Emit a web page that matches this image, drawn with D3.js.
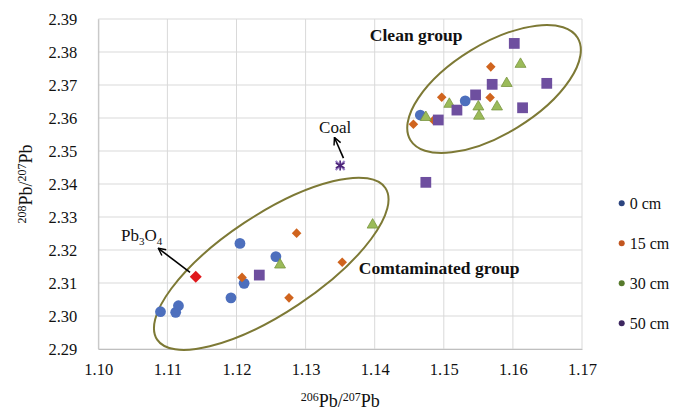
<!DOCTYPE html>
<html>
<head>
<meta charset="utf-8">
<script src="https://cdn.jsdelivr.net/npm/d3@7"></script>
<style>
  html, body { margin: 0; padding: 0; background: #fff; }
  svg { display: block; }
  svg text { font-family: "Liberation Serif", "Times New Roman", Times, "DejaVu Serif", serif; }
</style>
</head>
<body>
<svg id="chart" width="678" height="414"></svg>
<script>
// Axis ticks
const xTicks = [1.10, 1.11, 1.12, 1.13, 1.14, 1.15, 1.16, 1.17];
const yTicks = [2.29, 2.30, 2.31, 2.32, 2.33, 2.34, 2.35, 2.36, 2.37, 2.38, 2.39];

// 206Pb/207Pb (x) and 208Pb/207Pb (y) by sampling depth
const depthLabels = ["0 cm", "15 cm", "30 cm", "50 cm"];
const x0cm  = [1.1090, 1.1112, 1.1116, 1.1192, 1.1205, 1.1211, 1.1257, 1.1466, 1.1531];
const y0cm  = [2.3013, 2.3011, 2.3031, 2.3055, 2.3220, 2.3099, 2.3180, 2.3609, 2.3652];
const x15cm = [1.1208, 1.1276, 1.1287, 1.1353, 1.1456, 1.1485, 1.1497, 1.1567, 1.1568];
const y15cm = [2.3117, 2.3055, 2.3251, 2.3163, 2.3581, 2.3593, 2.3663, 2.3662, 2.3755];
const x30cm = [1.1263, 1.1397, 1.1474, 1.1508, 1.1550, 1.1551, 1.1577, 1.1591, 1.1611];
const y30cm = [2.3155, 2.3276, 2.3602, 2.3642, 2.3634, 2.3606, 2.3634, 2.3705, 2.3763];
const x50cm = [1.1233, 1.1474, 1.1492, 1.1519, 1.1546, 1.1570, 1.1602, 1.1614, 1.1649];
const y50cm = [2.3124, 2.3405, 2.3594, 2.3624, 2.3670, 2.3702, 2.3826, 2.3631, 2.3705];

// Reference sources
const coalPoint = [1.1350, 2.3456];
const pb3o4Point = [1.1141, 2.3119];

const serif = '"Liberation Serif", "Times New Roman", Times, "DejaVu Serif", serif';
const svg = d3.select("#chart");
const plot = { left: 98.3, right: 582, top: 19, bottom: 349 };

const x = d3.scaleLinear().domain([1.10, 1.17]).range([plot.left, plot.right]);
const y = d3.scaleLinear().domain([2.29, 2.39]).range([plot.bottom, plot.top]);

// Gridlines
const grid = svg.append("g");
grid.selectAll("line.v").data(xTicks).join("line")
  .attr("x1", d => x(d)).attr("x2", d => x(d))
  .attr("y1", plot.top).attr("y2", plot.bottom)
  .attr("stroke", "#d9d9d9").attr("stroke-width", 1);
grid.selectAll("line.h").data(yTicks).join("line")
  .attr("x1", plot.left).attr("x2", plot.right)
  .attr("y1", d => y(d)).attr("y2", d => y(d))
  .attr("stroke", "#d9d9d9").attr("stroke-width", 1);

// Axes
const xAxis = d3.axisBottom(x).tickValues(xTicks).tickFormat(d3.format(".2f")).tickSize(0).tickPadding(14);
const yAxis = d3.axisLeft(y).tickValues(yTicks).tickFormat(d3.format(".2f")).tickSize(0).tickPadding(21);

const gx = svg.append("g").attr("transform", `translate(0,${plot.bottom})`).call(xAxis);
const gy = svg.append("g").attr("transform", `translate(${plot.left},0)`).call(yAxis);
[gx, gy].forEach(g => {
  g.attr("font-family", null).attr("font-size", null);
  g.select(".domain").attr("stroke", "#bfbfbf").attr("stroke-width", 1);
  g.selectAll("text").style("font-family", serif)
    .attr("font-size", 16.5).attr("fill", "#111");
});

// Group ellipses
const ellipses = [
  { cx: 1.15727, cy: 2.36879, rx: 98, ry: 45, angle: -31.5 },
  { cx: 1.12503, cy: 2.31583, rx: 137, ry: 49, angle: -33.6 }
];
svg.append("g").selectAll("ellipse").data(ellipses).join("ellipse")
  .attr("transform", d => `translate(${x(d.cx)},${y(d.cy)}) rotate(${d.angle})`)
  .attr("rx", d => d.rx).attr("ry", d => d.ry)
  .attr("fill", "none").attr("stroke", "#7d7935").attr("stroke-width", 2);

// Series markers
function pts(xs, ys) { return xs.map((v, i) => [v, ys[i]]); }
const marks = svg.append("g");

marks.selectAll("circle.s0").data(pts(x0cm, y0cm)).join("circle")
  .attr("cx", d => x(d[0])).attr("cy", d => y(d[1])).attr("r", 5.4)
  .attr("fill", "#4d6fbd");

marks.selectAll("path.s15").data(pts(x15cm, y15cm)).join("path")
  .attr("transform", d => `translate(${x(d[0])},${y(d[1])}) rotate(45)`)
  .attr("d", d3.symbol(d3.symbolSquare, 46))
  .attr("fill", "#d0641e");

marks.selectAll("path.s30").data(pts(x30cm, y30cm)).join("path")
  .attr("transform", d => `translate(${x(d[0])},${y(d[1])})`)
  .attr("d", d3.symbol(d3.symbolTriangle, 52))
  .attr("fill", "#9bbb59").attr("stroke", "#7a9640").attr("stroke-width", 0.8);

marks.selectAll("path.s50").data(pts(x50cm, y50cm)).join("path")
  .attr("transform", d => `translate(${x(d[0])},${y(d[1])})`)
  .attr("d", d3.symbol(d3.symbolSquare, 116))
  .attr("fill", "#6e4f9f");

// Pb3O4 source
marks.append("path")
  .attr("transform", `translate(${x(pb3o4Point[0])},${y(pb3o4Point[1])}) rotate(45)`)
  .attr("d", d3.symbol(d3.symbolSquare, 72))
  .attr("fill", "#e0181c");

// Coal source
const coal = marks.append("g").attr("transform", `translate(${x(coalPoint[0])},${y(coalPoint[1])})`);
coal.append("path").attr("d", "M-4.5,-4.5L4.5,4.5M-4.5,4.5L4.5,-4.5")
  .attr("stroke", "#9c82c8").attr("stroke-width", 2.2);
coal.append("path").attr("d", "M0,-5L0,5M-4.3,-2.5L4.3,2.5M-4.3,2.5L4.3,-2.5")
  .attr("stroke", "#4b2378").attr("stroke-width", 1.6);

// Annotation arrows
svg.append("defs").append("marker")
  .attr("id", "head").attr("viewBox", "0 0 10 10").attr("refX", 9).attr("refY", 5)
  .attr("markerWidth", 9).attr("markerHeight", 9).attr("orient", "auto").attr("markerUnits", "userSpaceOnUse")
  .append("path").attr("d", "M1,1L9,5L1,9").attr("fill", "none").attr("stroke", "#000").attr("stroke-width", 1.6);

const arrows = [
  { from: coalPoint, dx1: 3.3, dy1: -7.4, dx2: -5.7, dy2: -28 },
  { from: pb3o4Point, dx1: -5.7, dy1: -4.4, dx2: -37.4, dy2: -28.4 }
];
svg.append("g").selectAll("line").data(arrows).join("line")
  .attr("x1", d => x(d.from[0]) + d.dx1).attr("y1", d => y(d.from[1]) + d.dy1)
  .attr("x2", d => x(d.from[0]) + d.dx2).attr("y2", d => y(d.from[1]) + d.dy2)
  .attr("stroke", "#000").attr("stroke-width", 1.6).attr("marker-end", "url(#head)");

// Annotation labels
svg.append("text").attr("x", x(coalPoint[0]) - 5).attr("y", y(coalPoint[1]) - 33)
  .attr("text-anchor", "middle").attr("font-size", 17).attr("fill", "#111").text("Coal");

const pbLabel = svg.append("text").attr("x", x(pb3o4Point[0]) - 54).attr("y", y(pb3o4Point[1]) - 36)
  .attr("text-anchor", "middle").attr("font-size", 17).attr("fill", "#111");
pbLabel.append("tspan").text("Pb");
pbLabel.append("tspan").attr("font-size", 11).attr("dy", 4).text("3");
pbLabel.append("tspan").attr("dy", -4).text("O");
pbLabel.append("tspan").attr("font-size", 11).attr("dy", 4).text("4");

svg.append("text").attr("x", x(1.1393)).attr("y", y(2.3833))
  .attr("font-size", 17.5).attr("font-weight", "bold").attr("fill", "#111").text("Clean group");
svg.append("text").attr("x", x(1.1377)).attr("y", y(2.3127))
  .attr("font-size", 17.5).attr("font-weight", "bold").attr("fill", "#111").text("Comtaminated group");

// Axis titles
const xt = svg.append("text").attr("x", (plot.left + plot.right) / 2).attr("y", 407)
  .attr("text-anchor", "middle").attr("font-size", 18).attr("fill", "#111");
xt.append("tspan").attr("font-size", 12).attr("dy", -6).text("206");
xt.append("tspan").attr("dy", 6).text("Pb/");
xt.append("tspan").attr("font-size", 12).attr("dy", -6).text("207");
xt.append("tspan").attr("dy", 6).text("Pb");

const yt = svg.append("text").attr("transform", `translate(32,${(plot.top + plot.bottom) / 2}) rotate(-90)`)
  .attr("text-anchor", "middle").attr("font-size", 18).attr("fill", "#111");
yt.append("tspan").attr("font-size", 12).attr("dy", -6).text("208");
yt.append("tspan").attr("dy", 6).text("Pb/");
yt.append("tspan").attr("font-size", 12).attr("dy", -6).text("207");
yt.append("tspan").attr("dy", 6).text("Pb");

// Legend
const legendColors = ["#2c447f", "#c2561f", "#577a2c", "#3d2760"];
const legend = svg.append("g");
const lg = legend.selectAll("g").data(depthLabels).join("g")
  .attr("transform", (d, i) => `translate(621.7,${203.3 + i * 40})`);
lg.append("circle").attr("r", 3).attr("fill", (d, i) => legendColors[i]);
lg.append("text").attr("x", 8).attr("dy", "0.35em").attr("font-size", 16).attr("fill", "#111").text(d => d);
</script>
</body>
</html>
